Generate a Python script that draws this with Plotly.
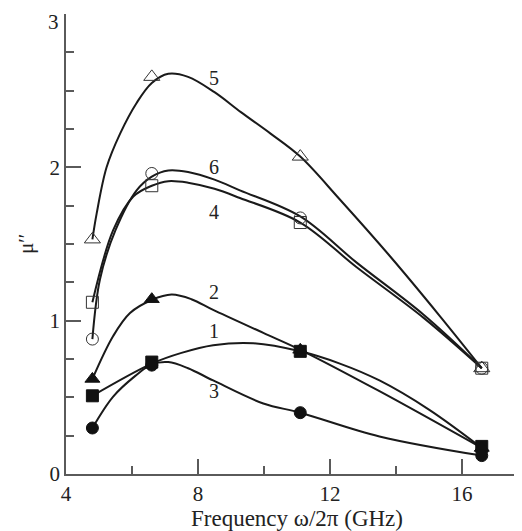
import plotly.graph_objects as go

# measured data points
freq = [4.8, 6.6, 11.1, 16.6]
mu1 = [0.51, 0.73, 0.80, 0.18]
mu2 = [0.62, 1.14, 0.81, 0.17]
mu3 = [0.30, 0.71, 0.40, 0.12]
mu4 = [1.12, 1.88, 1.64, 0.69]
mu5 = [1.53, 2.59, 2.07, 0.69]
mu6 = [0.88, 1.96, 1.67, 0.69]

# smooth guide curves
c1_x = [4.8, 6.6, 7.5, 8.46, 9.68, 11.1, 12.3, 13.5, 15.0, 16.6]
c1_y = [0.51, 0.72, 0.79, 0.84, 0.853, 0.80, 0.72, 0.61, 0.42, 0.17]
c2_x = [4.8, 5.43, 5.94, 6.6, 7.2, 7.8, 8.46, 9.98, 11.1, 13.5, 16.6]
c2_y = [0.62, 0.90, 1.05, 1.135, 1.17, 1.14, 1.07, 0.92, 0.81, 0.54, 0.17]
c3_x = [4.8, 5.43, 6.1, 6.6, 7.1, 7.7, 8.46, 9.98, 11.1, 13.5, 16.6]
c3_y = [0.30, 0.505, 0.64, 0.715, 0.73, 0.69, 0.61, 0.46, 0.40, 0.245, 0.12]
c4_x = [4.8, 5.43, 6.04, 6.6, 7.1, 7.7, 8.5, 9.27, 11.1, 12.8, 14.83, 16.6]
c4_y = [1.12, 1.59, 1.81, 1.88, 1.91, 1.90, 1.86, 1.80, 1.64, 1.35, 1.02, 0.69]
c5_x = [4.8, 4.93, 5.23, 5.64, 6.14, 6.6, 7.1, 7.7, 8.5, 9.3, 10.2, 11.1, 12.3, 13.82, 15.33, 16.6]
c5_y = [1.53, 1.70, 2.0, 2.22, 2.42, 2.55, 2.61, 2.59, 2.49, 2.36, 2.22, 2.07, 1.79, 1.42, 1.03, 0.69]
c6_x = [4.8, 5.03, 5.5, 6.14, 6.6, 7.1, 7.7, 8.5, 9.27, 11.1, 12.8, 14.83, 16.6]
c6_y = [0.88, 1.27, 1.59, 1.85, 1.94, 1.98, 1.97, 1.92, 1.85, 1.68, 1.38, 1.04, 0.69]

labels = ["1", "2", "3", "4", "5", "6"]
label_x = [8.5, 8.5, 8.5, 8.5, 8.5, 8.5]
label_y = [0.93, 1.19, 0.54, 1.71, 2.58, 2.0]

x_ticks = [4, 8, 12, 16]
x_minor = [6, 10, 14]
y_ticks = [0, 1, 2, 3]
y_ticktext = ["0", "1", "2", ""]   # top label "3" drawn below its tick, as in the reference
y_top_label = "3"

x_title = "Frequency ω/2π (GHz)"
y_title = "μ′′"

FONT = "Liberation Serif, Times New Roman, serif"
AX = "#5a5a5a"
TXT = "#222"

fig = go.Figure()
curves = [(c1_x, c1_y), (c2_x, c2_y), (c3_x, c3_y), (c4_x, c4_y), (c5_x, c5_y), (c6_x, c6_y)]
for cx, cy in curves:
    fig.add_trace(go.Scatter(x=cx, y=cy, mode="lines",
                             line=dict(color="#1a1a1a", width=2, shape="spline", smoothing=1.0),
                             showlegend=False, hoverinfo="skip"))

series = [
    (mu1, "square", 12, "#111"),
    (mu2, "triangle-up", 13, "#111"),
    (mu3, "circle", 12, "#111"),
    (mu4, "square-open", 12, "#333"),
    (mu5, "triangle-up-open", 14, "#333"),
    (mu6, "circle-open", 12, "#333"),
]
for ys, sym, sz, col in series:
    fig.add_trace(go.Scatter(x=freq, y=ys, mode="markers",
                             marker=dict(symbol=sym, size=sz, color=col,
                                         line=dict(color=col, width=1)),
                             showlegend=False))

for t, lx, ly in zip(labels, label_x, label_y):
    fig.add_annotation(x=lx, y=ly, text=t, showarrow=False,
                       font=dict(family=FONT, size=20, color=TXT))

# top y tick label, placed just below its tick
fig.add_annotation(xref="paper", yref="y", x=0, y=y_ticks[-1], xshift=-5, yshift=-8,
                   xanchor="right", yanchor="middle", text=y_top_label, showarrow=False,
                   font=dict(family=FONT, size=21, color=TXT))

# axis titles
fig.add_annotation(xref="paper", yref="paper", x=0.507, y=0, yshift=-44,
                   xanchor="center", yanchor="middle", text=x_title, showarrow=False,
                   font=dict(family=FONT, size=23, color=TXT))
fig.add_annotation(xref="paper", yref="paper", x=0, xshift=-40, y=0.5,
                   xanchor="center", yanchor="middle", text=y_title, showarrow=False,
                   textangle=-90, font=dict(family=FONT, size=21, color=TXT))

# the page body adds an 8px offset, so the figure is sized to fit the window
fig.update_layout(
    width=514, height=523,
    margin=dict(l=58, r=0, t=6, b=57),
    plot_bgcolor="white", paper_bgcolor="white",
    font=dict(family=FONT, size=21, color=TXT),
    xaxis=dict(range=[4, 17.82], showline=True, linecolor=AX, linewidth=1.5,
               automargin=False, ticklabeloverflow="allow",
               ticks="inside", ticklen=15, tickcolor=AX, tickwidth=1.5,
               tickvals=x_ticks, showgrid=False, zeroline=False,
               tickfont=dict(family=FONT, size=21),
               minor=dict(tickvals=x_minor, ticks="inside", ticklen=8,
                          tickcolor=AX, tickwidth=1.5, showgrid=False)),
    yaxis=dict(range=[0, 3], showline=True, linecolor=AX, linewidth=1.5,
               automargin=False, ticklabeloverflow="allow",
               ticks="inside", ticklen=15, tickcolor=AX, tickwidth=1.5,
               tickvals=y_ticks, ticktext=y_ticktext, showgrid=False, zeroline=False,
               tickfont=dict(family=FONT, size=21),
               minor=dict(dtick=0.25, ticks="inside", ticklen=8,
                          tickcolor=AX, tickwidth=1.5, showgrid=False)),
)

fig.write_html("out.html")
